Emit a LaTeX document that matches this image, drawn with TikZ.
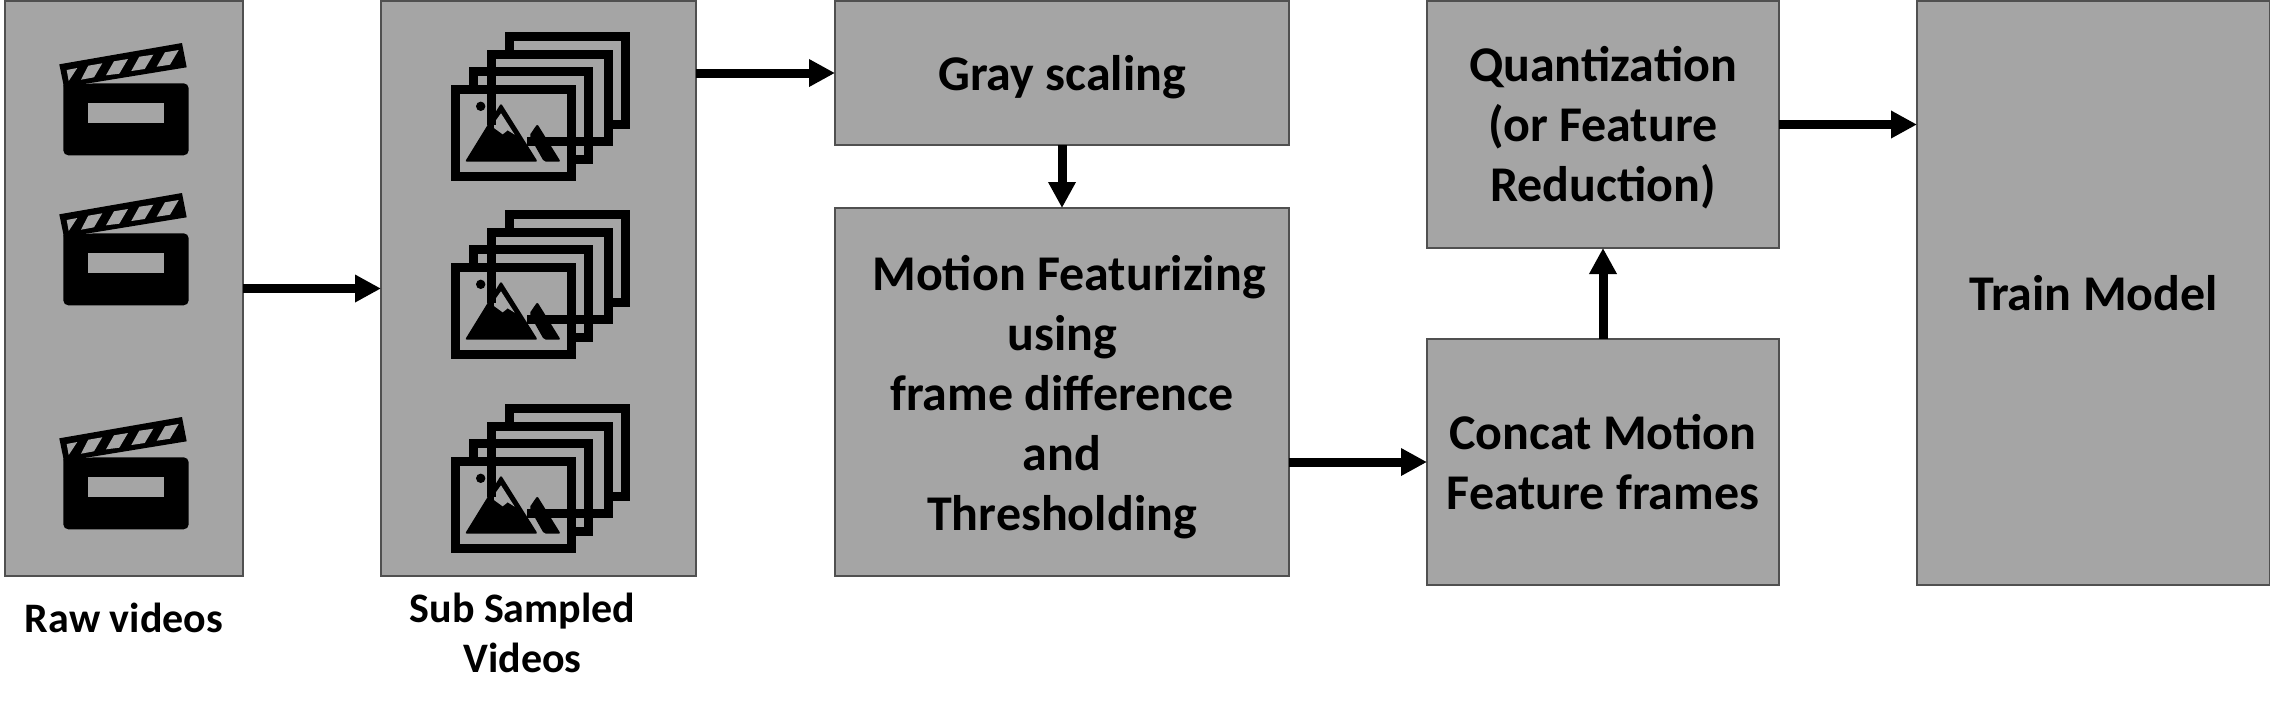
\documentclass[tikz,border=0pt]{standalone}
\usepackage{fontspec}
\usepackage{tikz}
\usetikzlibrary{arrows.meta}
\setmainfont{Carlito}
\definecolor{boxgray}{HTML}{A5A5A5}
\definecolor{boxedge}{HTML}{505050}
\newcommand{\toppad}[1]{\rule{0pt}{#1}}

\begin{document}
\begin{tikzpicture}
[ x=0.5pt, y=-0.5pt
, block/.style={rectangle, draw=boxedge, fill=boxgray, line width=1pt, outer sep=0pt, inner sep=0pt, align=center, font=\fontsize{25pt}{30pt}\selectfont\bfseries}
, caption/.style={align=center, inner sep=0pt, font=\fontsize{21pt}{24.6pt}\selectfont\bfseries}
, flow/.style={-{Triangle[length=13pt, width=13pt]}, line width=4.5pt}
, clapper/.pic={
    \fill (59.3,64.3) -- (182,43) -- (186.7,67.3) -- (64,87.3) -- cycle;
    \fill [rounded corners=2.5pt] (63.3,85) -- (63.3,155.3) -- (188.7,155.3) -- (188.7,83.3) -- (96,83.3) [sharp corners] -- cycle;
    \fill [boxgray] (88.3,103.3) rectangle (163.7,122.7);
    \fill [boxgray] (66.7,70) -- (77.3,68) -- (68.7,81) -- cycle;
    \fill [boxgray] (88.3,65.7) -- (102.3,63.3) -- (94,77.3) -- (81,79.7) -- cycle;
    \fill [boxgray] (114,61.3) -- (128,59) -- (119.3,73.7) -- (106,75.3) -- cycle;
    \fill [boxgray] (139.3,56.7) -- (153.3,54.7) -- (144.7,69) -- (131.3,71) -- cycle;
    \fill [boxgray] (165,52.3) -- (178.7,50) -- (170,64.7) -- (156.7,66.7) -- cycle;
  }
, stack/.pic={
    \fill [rounded corners=1pt] (465,161.7) -- (501,103.3) -- (537.7,161.7) -- cycle;
    \fill [rounded corners=1pt] (537.3,124) -- (560.7,161.7) -- (544,161.7) -- (529.3,135.7) -- cycle;
    \fill [boxgray] (501,113.3) -- (514.7,134.7) -- (507.7,130.3) -- (502.7,134.3) -- (494,128) -- (494,123) -- cycle;
    \fill (480.7,106.3) circle [radius=2.35pt];
    \draw [line width=4.5pt] (455.6,89.3) rectangle (571.6,176.7);
    \draw [line width=4.5pt] (473,84.7) -- (473,71.7) -- (588.7,71.7) -- (588.7,159.3) -- (576,159.3);
    \draw [line width=4.5pt] (491.7,125) -- (491.7,54) -- (608.3,54) -- (608.3,141.7) -- (526.7,141.7);
    \draw [line width=4.5pt] (509,49.7) -- (509,36.7) -- (625.3,36.7) -- (625.3,124.3) -- (612.7,124.3);
  }
]
\useasboundingbox (0,0) rectangle (2270,709);
% Boxes, left to right:
\node (raw) [block, minimum width=119.25pt, minimum height=287.5pt] at (123.75,288.5) {};
\node (sub) [block, minimum width=157.5pt, minimum height=287.5pt] at (538.5,288.5) {};
\node (gray) [block, minimum width=227pt, minimum height=72pt] at (1062,73) {\toppad{22pt}Gray scaling};
\node (motion) [block, minimum width=227pt, minimum height=184pt] at (1062,392) {\toppad{23pt}\hspace*{7pt}Motion Featurizing\\using\\frame difference\\and\\Thresholding};
\node (concat) [block, minimum width=176pt, minimum height=123pt] at (1603,462) {Concat Motion\\Feature frames};
\node (quant) [block, minimum width=176pt, minimum height=123.5pt] at (1603,124.5) {\toppad{21pt}Quantization\\(or Feature\\Reduction)};
\node (train) [block, minimum width=176.5pt, minimum height=292pt] at (2093.5,293) {Train Model};
% Captions:
\node (rawtext) [caption] at (124,618) {Raw videos};
\node (subtext) [caption] at (522.5,633) {Sub Sampled\\Videos};
% Icons:
\foreach \dy in {0,150,374} \pic at (0,\dy) {clapper};
\foreach \dy in {0,178,372} \pic at (0,\dy) {stack};
% Arrows:
\draw [flow] (raw) -- (sub);
\draw [flow] (sub.east |- gray.west) -- (gray.west);
\draw [flow] (gray) -- (motion);
\draw [flow] (motion.east |- concat.west) -- (concat.west);
\draw [flow] (concat) -- (quant);
\draw [flow] (quant.east) -- (quant.east -| train.west);
\end{tikzpicture}
\end{document}
